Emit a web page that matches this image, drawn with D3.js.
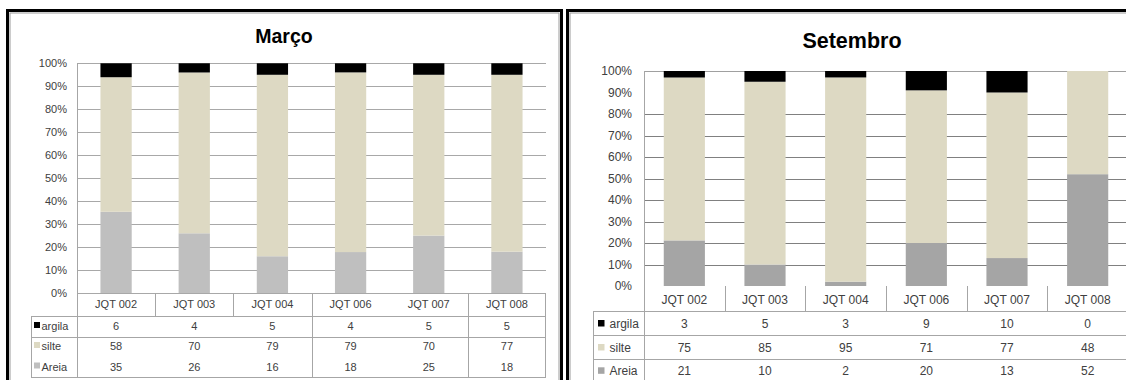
<!DOCTYPE html>
<html>
<head>
<meta charset="utf-8">
<script src="https://cdn.jsdelivr.net/npm/d3@7"></script>
<style>
  html, body { margin: 0; padding: 0; background: #fff; }
  svg { display: block; font-family: "Liberation Sans", Arial, sans-serif; }
</style>
</head>
<body>
<svg id="chart" width="1126" height="380"></svg>
<script>
// Granulometria por ponto de coleta (%), março e setembro
const categories = ["JQT 002", "JQT 003", "JQT 004", "JQT 006", "JQT 007", "JQT 008"];
const seriesNames = ["argila", "silte", "Areia"];

const marcoArgila = [6, 4, 5, 4, 5, 5];
const marcoSilte  = [58, 70, 79, 79, 70, 77];
const marcoAreia  = [35, 26, 16, 18, 25, 18];

const setembroArgila = [3, 5, 3, 9, 10, 0];
const setembroSilte  = [75, 85, 95, 71, 77, 48];
const setembroAreia  = [21, 10, 2, 20, 13, 52];

const yTicks = [0, 0.1, 0.2, 0.3, 0.4, 0.5, 0.6, 0.7, 0.8, 0.9, 1];

const svg = d3.select("#chart");
const textColor = "#404040";

function drawPanel(cfg) {
  const g = svg.append("g");
  const values = { argila: cfg.argila, silte: cfg.silte, Areia: cfg.areia };
  const rows = categories.map((c, i) => ({ cat: c, argila: cfg.argila[i], silte: cfg.silte[i], Areia: cfg.areia[i] }));
  const stacked = d3.stack().keys(["Areia", "silte", "argila"]).offset(d3.stackOffsetExpand)(rows);
  const color = { argila: "#000000", silte: "#DDD9C3", Areia: cfg.areiaColor };

  // panel frame
  g.append("rect").attr("x", cfg.frame[0]).attr("y", cfg.frame[1])
    .attr("width", cfg.frame[2]).attr("height", cfg.frame[3])
    .attr("fill", "none").attr("stroke", "#000").attr("stroke-width", 3);
  g.append("rect").attr("x", cfg.frame[0] + 2.5).attr("y", cfg.frame[1] + 2.5)
    .attr("width", cfg.frame[2] - 5).attr("height", cfg.frame[3] - 5)
    .attr("fill", "none").attr("stroke", "#9a9a9a").attr("stroke-width", 1);

  // title
  g.append("text").attr("x", cfg.titleX).attr("y", cfg.titleY)
    .attr("text-anchor", "middle").attr("font-weight", "bold")
    .attr("font-size", cfg.titleSize).style("fill", "#000").text(cfg.title);

  const x = d3.scaleBand().domain(categories).range([cfg.x0, cfg.x1])
    .paddingInner(cfg.pad).paddingOuter(cfg.pad / 2);
  const y = d3.scaleLinear().domain([0, 1]).range([cfg.yBottom, cfg.yTop]);
  const step = x.step();

  // gridlines
  g.append("g").selectAll("line")
    .data(yTicks.filter(t => !cfg.skipGrid.includes(t)))
    .join("line")
    .attr("x1", cfg.x0).attr("x2", cfg.x1)
    .attr("y1", d => Math.round(y(d)) + 0.5).attr("y2", d => Math.round(y(d)) + 0.5)
    .attr("stroke", d => d === 1 ? cfg.topColor : cfg.gridColor)
    .attr("stroke-width", cfg.gridWidth);

  // y axis with percentage labels
  const axis = g.append("g").attr("transform", `translate(${cfg.x0},0)`)
    .call(d3.axisLeft(y).tickValues(yTicks).tickFormat(d3.format(".0%")).tickSize(0).tickPadding(cfg.x0 - cfg.labelRight));
  axis.select(".domain").remove();
  axis.selectAll("text")
    .attr("font-size", cfg.fontSize)
    .attr("font-family", "Liberation Sans, Arial, sans-serif")
    .style("fill", textColor);

  // stacked bars
  g.append("g").selectAll("g").data(stacked).join("g")
    .attr("fill", d => color[d.key])
    .selectAll("rect").data(d => d).join("rect")
    .attr("x", d => x(d.data.cat)).attr("width", x.bandwidth())
    .attr("y", d => y(d[1])).attr("height", d => y(d[0]) - y(d[1]));

  // vertical axis line down through the table
  g.append("line").attr("x1", cfg.x0 + 0.5).attr("x2", cfg.x0 + 0.5)
    .attr("y1", cfg.yTop).attr("y2", cfg.tableBottom)
    .attr("stroke", cfg.tableColor).attr("stroke-width", 1);

  // data table
  const t = g.append("g").attr("stroke", cfg.tableColor).attr("stroke-width", 1);
  cfg.rowLines.forEach(yy => {
    t.append("line").attr("x1", cfg.legendX).attr("x2", cfg.x1).attr("y1", yy + 0.5).attr("y2", yy + 0.5);
  });
  t.append("line").attr("x1", cfg.legendX + 0.5).attr("x2", cfg.legendX + 0.5)
    .attr("y1", cfg.rowLines[0]).attr("y2", cfg.tableBottom);
  if (cfg.rightBorder) {
    t.append("line").attr("x1", cfg.x1 - 0.5).attr("x2", cfg.x1 - 0.5)
      .attr("y1", cfg.yBottom).attr("y2", cfg.tableBottom);
  }
  cfg.headerDividers.forEach(k => {
    const xx = Math.round(cfg.x0 + k * step) + 0.5;
    t.append("line").attr("x1", xx).attr("x2", xx).attr("y1", cfg.yBottom).attr("y2", cfg.rowLines[0]);
  });
  cfg.fullDividers.forEach(k => {
    const xx = Math.round(cfg.x0 + k * step) + 0.5;
    t.append("line").attr("x1", xx).attr("x2", xx).attr("y1", cfg.yBottom).attr("y2", cfg.tableBottom);
  });

  // header: category names
  g.append("g").selectAll("text").data(categories).join("text")
    .attr("x", d => x(d) + x.bandwidth() / 2).attr("y", cfg.headerY)
    .attr("text-anchor", "middle").attr("font-size", cfg.fontSize).style("fill", textColor)
    .text(d => d);

  // series rows: legend key + values
  seriesNames.forEach((s, r) => {
    const rowG = g.append("g");
    rowG.append("rect").attr("x", cfg.keyX).attr("y", cfg.rowY[r] - cfg.keyOffset)
      .attr("width", cfg.keySize).attr("height", cfg.keySize).attr("fill", color[s]);
    rowG.append("text").attr("x", cfg.keyX + cfg.keySize + cfg.keyGap).attr("y", cfg.rowY[r])
      .attr("font-size", cfg.fontSize).style("fill", textColor).text(s);
    rowG.selectAll("text.v").data(values[s]).join("text").attr("class", "v")
      .attr("x", (d, i) => x(categories[i]) + x.bandwidth() / 2).attr("y", cfg.rowY[r])
      .attr("text-anchor", "middle").attr("font-size", cfg.fontSize).style("fill", textColor)
      .text(d => d);
  });
}

drawPanel({
  title: "Março", titleX: 284, titleY: 43, titleSize: 19.5,
  argila: marcoArgila, silte: marcoSilte, areia: marcoAreia, areiaColor: "#BFBFBF",
  frame: [7.5, 10.5, 554, 400],
  x0: 77, x1: 546, pad: 0.6, yTop: 63.3, yBottom: 293,
  skipGrid: [], gridColor: "#a8a8a8", topColor: "#a8a8a8", gridWidth: 1.2,
  labelRight: 67, fontSize: 11,
  tableColor: "#a6a6a6", legendX: 31, rowLines: [316, 337, 377], tableBottom: 377,
  rightBorder: true, headerDividers: [1, 2], fullDividers: [3, 5],
  headerY: 308, rowY: [330, 350, 370.5],
  keyX: 34, keySize: 6, keyOffset: 8, keyGap: 1.5
});

drawPanel({
  title: "Setembro", titleX: 852, titleY: 48, titleSize: 21.5,
  argila: setembroArgila, silte: setembroSilte, areia: setembroAreia, areiaColor: "#A5A5A5",
  frame: [567.5, 10.5, 600, 400],
  x0: 644, x1: 1128, pad: 0.49, yTop: 71, yBottom: 286,
  skipGrid: [0, 0.9], gridColor: "#808080", topColor: "#a0a0a0", gridWidth: 1.2,
  labelRight: 632, fontSize: 12,
  tableColor: "#a6a6a6", legendX: 593, rowLines: [311, 335, 359], tableBottom: 395,
  rightBorder: false, headerDividers: [1, 2, 3, 4, 5], fullDividers: [],
  headerY: 304, rowY: [327.7, 351.7, 375],
  keyX: 598, keySize: 6.5, keyOffset: 7.7, keyGap: 5
});
</script>
</body>
</html>
